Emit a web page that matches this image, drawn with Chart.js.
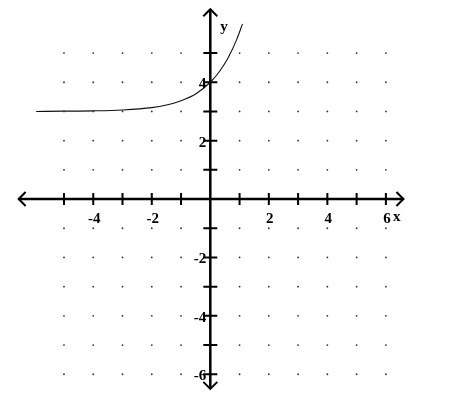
<!DOCTYPE html>
<html>
<head>
<meta charset="utf-8">
<script src="https://cdn.jsdelivr.net/npm/chart.js@4/dist/chart.umd.min.js"></script>
<style>
  html, body { margin: 0; padding: 0; background: #fff; }
  #graph { display: block; }
</style>
</head>
<body>
<canvas id="graph" width="449" height="406"></canvas>
<script>
// Curve points
const curveX = [-5.95, -5, -4, -3, -2, -1.5, -1, -0.5, 0, 0.3, 0.6, 0.9, 1.1];
const curveY = [3.0, 3.01, 3.02, 3.05, 3.13, 3.22, 3.37, 3.6, 4.0, 4.35, 4.82, 5.46, 6.0];

// Axis tick positions and labels
const xTicks = [-5, -4, -3, -2, -1, 1, 2, 3, 4, 5, 6];
const yTicks = [-6, -5, -4, -3, -2, -1, 1, 2, 3, 4, 5];
const xLabels = [-4, -2, 2, 4, 6];
const yLabels = [4, 2, -2, -4, -6];

// Grid dots at integer points
const dotX = [-5, -4, -3, -2, -1, 1, 2, 3, 4, 5, 6];
const dotY = [-6, -5, -4, -3, -2, -1, 1, 2, 3, 4, 5];

// Axis extent (data units) and view window
const axisX = [-6.55, 6.6];
const axisY = [-6.5, 6.5];
const viewX = [-7.05, 8.02];
const viewY = [-6.95, 6.68];

const dots = [];
dotX.forEach(x => dotY.forEach(y => dots.push({ x: x, y: y })));

const curve = curveX.map((x, i) => ({ x: x, y: curveY[i] }));

// Draws the axes with arrows, tick marks and labels
const axesPlugin = {
    id: 'axes',
    beforeDatasetsDraw(chart) {
        const c = chart.ctx;
        const sx = chart.scales.x;
        const sy = chart.scales.y;
        const x0 = sx.getPixelForValue(0);
        const y0 = sy.getPixelForValue(0);
        const left = sx.getPixelForValue(axisX[0]);
        const right = sx.getPixelForValue(axisX[1]);
        const top = sy.getPixelForValue(axisY[1]);
        const bottom = sy.getPixelForValue(axisY[0]);

        c.save();
        c.strokeStyle = '#000';
        c.lineWidth = 2.5;
        c.beginPath();
        c.moveTo(left, y0); c.lineTo(right, y0);
        c.moveTo(x0, top); c.lineTo(x0, bottom);
        c.stroke();

        // arrow heads
        c.lineWidth = 2;
        const a = 7;
        c.beginPath();
        c.moveTo(left + a, y0 - a); c.lineTo(left, y0); c.lineTo(left + a, y0 + a);
        c.moveTo(right - a, y0 - a); c.lineTo(right, y0); c.lineTo(right - a, y0 + a);
        c.moveTo(x0 - a, top + a); c.lineTo(x0, top); c.lineTo(x0 + a, top + a);
        c.moveTo(x0 - a, bottom - a); c.lineTo(x0, bottom); c.lineTo(x0 + a, bottom - a);
        c.stroke();

        // tick marks
        c.lineWidth = 2;
        c.beginPath();
        xTicks.forEach(v => {
            const px = sx.getPixelForValue(v);
            c.moveTo(px, y0 - 6); c.lineTo(px, y0 + 6);
        });
        yTicks.forEach(v => {
            const py = sy.getPixelForValue(v);
            c.moveTo(x0 - 7, py); c.lineTo(x0 + 7, py);
        });
        c.stroke();

        // labels
        c.fillStyle = '#000';
        c.font = 'bold 15px "Liberation Serif"';
        c.textBaseline = 'middle';
        c.textAlign = 'center';
        xLabels.forEach(v => {
            c.fillText(String(v), sx.getPixelForValue(v) + 1, y0 + 20);
        });
        c.textAlign = 'right';
        yLabels.forEach(v => {
            c.fillText(String(v), x0 - 4, sy.getPixelForValue(v) + 2);
        });
        c.textAlign = 'left';
        c.fillText('x', sx.getPixelForValue(6) + 7, y0 + 18);
        c.fillText('y', x0 + 10, sy.getPixelForValue(6) + 3);
        c.restore();
    }
};

new Chart(document.getElementById('graph'), {
    type: 'scatter',
    data: {
        datasets: [
            {
                label: 'dots',
                data: dots,
                pointRadius: 0.9,
                pointBackgroundColor: '#333',
                pointBorderWidth: 0,
                showLine: false
            },
            {
                label: 'curve',
                data: curve,
                showLine: true,
                borderColor: '#111',
                borderWidth: 1.1,
                pointRadius: 0,
                cubicInterpolationMode: 'monotone',
                fill: false
            }
        ]
    },
    options: {
        responsive: false,
        animation: false,
        devicePixelRatio: 1,
        layout: { padding: 0 },
        plugins: {
            legend: { display: false },
            tooltip: { enabled: false }
        },
        scales: {
            x: { type: 'linear', min: viewX[0], max: viewX[1], display: false },
            y: { type: 'linear', min: viewY[0], max: viewY[1], display: false }
        }
    },
    plugins: [axesPlugin]
});
</script>
</body>
</html>
